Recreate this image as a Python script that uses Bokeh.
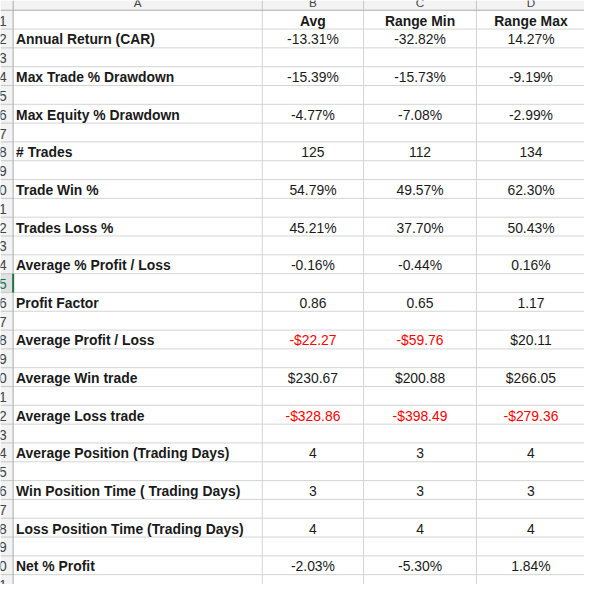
from bokeh.plotting import figure
from bokeh.models import ColumnDataSource, Range1d
from bokeh.embed import file_html
from bokeh.resources import INLINE
from bokeh.core.properties import value

# ---------------- data ----------------
col_letters = ["A", "B", "C", "D"]
col_headers = ["Avg", "Range Min", "Range Max"]
metrics = [
    "Annual Return (CAR)", "Max Trade % Drawdown", "Max Equity % Drawdown",
    "# Trades", "Trade Win %", "Trades Loss %", "Average % Profit / Loss",
    "Profit Factor", "Average Profit / Loss", "Average Win trade",
    "Average Loss trade", "Average Position (Trading Days)",
    "Win Position Time ( Trading Days)", "Loss Position Time (Trading Days)",
    "Net % Profit",
]
avg = [-13.31, -15.39, -4.77, 125, 54.79, 45.21, -0.16, 0.86, -22.27, 230.67,
       -328.86, 4, 3, 4, -2.03]
range_min = [-32.82, -15.73, -7.08, 112, 49.57, 37.70, -0.44, 0.65, -59.76,
             200.88, -398.49, 3, 3, 4, -5.30]
range_max = [14.27, -9.19, -2.99, 134, 62.30, 50.43, 0.16, 1.17, 20.11, 266.05,
             -279.36, 4, 3, 4, 1.84]
formats = ["pct", "pct", "pct", "int", "pct", "pct", "pct", "num", "cur", "cur",
           "cur", "int", "int", "int", "pct"]
metric_rows = [2, 4, 6, 8, 10, 12, 14, 16, 18, 20, 22, 24, 26, 28, 30]
header_row = 1
selected_row = 15
n_rows = 31

# ---------------- layout ----------------
W = 600
HDR_H = 10.0
ROW_H = 19.33
ROWHDR_W = 13.0
col_edges = [ROWHDR_W, 269.0, 373.0, 489.0, 602.0]
FONT = value("Liberation Sans")
SCALE = 584 / 600.0
FS = "%.1fpx" % (14.3 * SCALE)
FS_SMALL = "%.1fpx" % (12.0 * SCALE)
TEXT_COL = "#1a1a1a"
RED = "#ff0000"


def row_top(r):
    return HDR_H + (r - 1) * ROW_H


def row_mid(r):
    return row_top(r) + ROW_H / 2 + 1.0


def fmt_val(v, f):
    if f == "pct":
        return "%.2f%%" % v
    if f == "int":
        return "%d" % v
    if f == "num":
        return "%.2f" % v
    if f == "cur":
        return ("-$%.2f" % -v) if v < 0 else ("$%.2f" % v)
    return str(v)


def val_color(v, f):
    return RED if (f == "cur" and v < 0) else TEXT_COL


p = figure(width=584, height=584, output_backend="svg", toolbar_location=None,
           x_range=Range1d(0, W), y_range=Range1d(W, 0), min_border=0,
           background_fill_color="white", border_fill_color="white")
p.axis.visible = False
p.grid.visible = False
p.outline_line_color = None

# header backgrounds
p.quad(left=[0], right=[W], top=[0], bottom=[HDR_H], fill_color="#f3f3f3", line_color=None)
p.quad(left=[0], right=[ROWHDR_W], top=[HDR_H], bottom=[W], fill_color="#f3f3f3", line_color=None)
p.quad(left=[0], right=[ROWHDR_W], top=[row_top(selected_row)], bottom=[row_top(selected_row + 1)],
       fill_color="#e1e1e1", line_color=None)

# cell grid lines
hy = [row_top(r + 1) for r in range(1, n_rows + 1)]
p.segment(x0=[ROWHDR_W] * len(hy), x1=[W] * len(hy), y0=hy, y1=hy, line_color="#d4d4d4", line_width=1)
p.segment(x0=[0] * len(hy), x1=[ROWHDR_W] * len(hy), y0=hy, y1=hy, line_color="#c8c8c8", line_width=1)
vx = col_edges[1:-1]
p.segment(x0=vx, x1=vx, y0=[HDR_H] * len(vx), y1=[W] * len(vx), line_color="#d4d4d4", line_width=1)
p.segment(x0=vx, x1=vx, y0=[0] * len(vx), y1=[HDR_H] * len(vx), line_color="#c8c8c8", line_width=1)
# header borders
p.segment(x0=[0], x1=[W], y0=[HDR_H], y1=[HDR_H], line_color="#ababab", line_width=1)
p.segment(x0=[ROWHDR_W], x1=[ROWHDR_W], y0=[0], y1=[W], line_color="#ababab", line_width=1)
# selected-row marker
p.segment(x0=[ROWHDR_W], x1=[ROWHDR_W], y0=[row_top(selected_row)], y1=[row_top(selected_row + 1)],
          line_color="#217346", line_width=2)

# column letters
cx = [(col_edges[i] + col_edges[i + 1]) / 2 for i in range(4)]
cx[0] = 141.0
cx[3] = 545.0
p.text(x=cx, y=[2.5] * 4, text=col_letters, text_font=FONT, text_font_size=FS_SMALL,
       text_color="#444444", text_align="center", text_baseline="middle")

# row numbers
rn = [str(r) for r in range(1, n_rows + 1)]
rn_y = [row_mid(r) for r in range(1, n_rows + 1)]
rn_col = ["#217346" if r == selected_row else "#444444" for r in range(1, n_rows + 1)]
p.text(x=[6.5] * n_rows, y=rn_y, text=rn, text_color=rn_col, text_font=FONT,
       text_font_size=FS, text_align="right", text_baseline="middle")

# column headers (row 1)
p.text(x=cx[1:], y=[row_mid(header_row)] * 3, text=col_headers, text_font=FONT,
       text_font_size=FS, text_font_style="bold", text_color=TEXT_COL,
       text_align="center", text_baseline="middle")

# metric labels
lab = ColumnDataSource(dict(x=[16.0] * len(metrics), y=[row_mid(r) for r in metric_rows], t=metrics))
p.text(x="x", y="y", text="t", source=lab, text_font=FONT, text_font_size=FS,
       text_font_style="bold", text_color=TEXT_COL, text_align="left", text_baseline="middle")

# values
for ci, series in enumerate([avg, range_min, range_max]):
    src = ColumnDataSource(dict(
        x=[cx[ci + 1]] * len(series),
        y=[row_mid(r) for r in metric_rows],
        t=[fmt_val(v, f) for v, f in zip(series, formats)],
        c=[val_color(v, f) for v, f in zip(series, formats)],
    ))
    p.text(x="x", y="y", text="t", text_color="c", source=src, text_font=FONT,
           text_font_size=FS, text_align="center", text_baseline="middle")

open("out.html", "w").write(file_html(p, INLINE))
